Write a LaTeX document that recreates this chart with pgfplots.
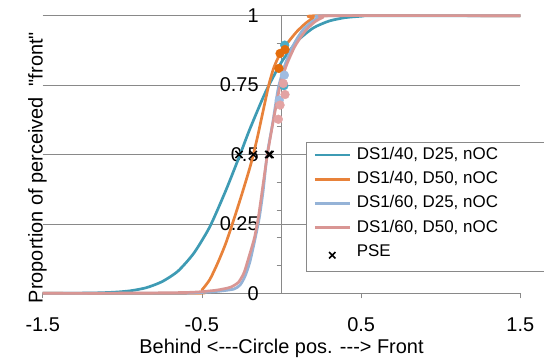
\documentclass[border=0pt]{standalone}
\usepackage{fontspec}
\setmainfont{Liberation Sans}[Ligatures=TeXOff]
\usepackage{pgfplots}
\pgfplotsset{compat=1.18}
\definecolor{cteal}{HTML}{3E9BB4}
\definecolor{corange}{HTML}{E8823A}
\definecolor{cblue}{HTML}{95B3D7}
\definecolor{cpink}{HTML}{D99694}
\definecolor{dteal}{HTML}{4BACC6}
\definecolor{dorange}{HTML}{E46C0A}
\definecolor{dblue}{HTML}{A0BCE0}
\definecolor{dpink}{HTML}{E3A3A3}
\definecolor{gridgray}{HTML}{898989}
\newcommand\lstrut{\rule[-3.5bp]{0pt}{16bp}}
\pgfplotsset{
  curve/.style={line width=2.7bp, line join=round, smooth, tension=0.4,
    legend image code/.code={\draw[##1] (0bp,0bp) -- (35bp,0bp);}},
  dots/.style={only marks, mark=*, mark size=4.4bp, forget plot},
  pselegend/.style={legend image code/.code={\draw[mark repeat=2, mark phase=2, ##1, mark options={line width=1.5bp, mark size=4.5bp}] plot coordinates {(0bp,0bp) (17.5bp,0bp) (35bp,0bp)};}},
}
\begin{document}
\begin{tikzpicture}
\begin{axis}[
  at={(0,0)}, anchor=south west,
  scale only axis, width=477.6bp, height=277.6bp,
  xmin=-1.5, xmax=1.5, ymin=0, ymax=1,
  axis x line=bottom, axis y line=center,
  axis line style={gridgray, line width=0.8bp, -},
  every inner y axis line/.append style={-},
  every outer x axis line/.append style={-},
  xtick={-1.5,-0.5,0.5,1.5}, xticklabels={-1.5,-0.5,0.5,1.5},
  ytick={0,0.25,0.5,0.75,1}, yticklabels={0,0.25,0.5,0.75,1},
  minor ytick={0.1,0.2,0.3,0.4,0.5,0.6,0.7,0.8,0.9},
  hide obscured x ticks=false, hide obscured y ticks=false,
  tick align=outside, major tick length=5bp, minor tick length=5bp,
  tick style={gridgray, line width=0.8bp},
  ymajorgrids, major grid style={gridgray, line width=0.8bp},
  tick label style={font=\fontsize{20}{24}\selectfont},
  xticklabel style={anchor=north, inner sep=0pt, yshift=-19bp},
  yticklabel style={anchor=east, inner sep=0pt, xshift=-17.7bp},
  clip=false,
  xlabel={Behind <---Circle pos. ---> Front},
  xlabel style={at={(axis description cs:0.5,0)}, anchor=base, yshift=-59.7bp, inner sep=0pt, font=\fontsize{20}{24}\selectfont},
  ylabel={Proportion of perceived~~"front"},
  ylabel style={at={(axis description cs:0,0.5)}, anchor=base, rotate=90, xshift=-13.1bp, inner sep=0pt, font=\fontsize{20}{24}\selectfont},
  legend style={at={(rel axis cs:0.5513,0.545)}, anchor=north west,
    draw=gridgray, line width=0.8bp, fill=white,
    font=\fontsize{17}{20}\selectfont,
    inner xsep=7bp, inner ysep=4.6bp, row sep=8.2bp,
    nodes={inner sep=0pt, text depth=},
    /tikz/every odd column/.append style={column sep=5.7bp}},
  legend cell align=left,
]
\addplot[curve, cteal] coordinates {(-1.5,0) (-1.2,0.001) (-1.05,0.004) (-0.95,0.009) (-0.85,0.02) (-0.75,0.042) (-0.65,0.08) (-0.55,0.145) (-0.45,0.24) (-0.35,0.37) (-0.26,0.5) (-0.2,0.59) (-0.1,0.725) (0,0.833) (0.1,0.909) (0.2,0.956) (0.3,0.981) (0.4,0.993) (0.5,0.998) (0.6,1) (1.5,1)};
\addlegendentry{DS1/40, D25, nOC\lstrut\hspace*{41bp}}
\addplot[curve, corange] coordinates {(-1.5,0) (-0.53,0) (-0.5,0.012) (-0.45,0.05) (-0.4,0.11) (-0.35,0.18) (-0.3,0.265) (-0.25,0.355) (-0.2,0.45) (-0.177,0.5) (-0.15,0.565) (-0.12,0.645) (-0.08,0.75) (-0.05,0.81) (-0.02,0.85) (0.02,0.888) (0.06,0.918) (0.1,0.945) (0.15,0.972) (0.2,0.992) (0.24,1) (1.5,1)};
\addlegendentry{DS1/40, D50, nOC\lstrut}
\addplot[curve, cblue] coordinates {(-1.5,0) (-0.65,0) (-0.5,0.003) (-0.4,0.007) (-0.3,0.015) (-0.26,0.03) (-0.23,0.06) (-0.2,0.11) (-0.17,0.185) (-0.14,0.27) (-0.115,0.37) (-0.09,0.5) (-0.055,0.615) (-0.02,0.74) (0.02,0.82) (0.06,0.878) (0.1,0.92) (0.14,0.953) (0.19,0.978) (0.24,0.994) (0.29,1) (1.5,1)};
\addlegendentry{DS1/60, D25, nOC\lstrut}
\addplot[curve, cpink] coordinates {(-1.5,0) (-0.9,0.001) (-0.6,0.003) (-0.5,0.006) (-0.4,0.012) (-0.32,0.022) (-0.27,0.04) (-0.235,0.075) (-0.2,0.14) (-0.17,0.2) (-0.145,0.275) (-0.12,0.375) (-0.09,0.495) (-0.055,0.61) (-0.01,0.745) (0.03,0.82) (0.08,0.885) (0.12,0.922) (0.16,0.952) (0.21,0.978) (0.26,0.994) (0.31,1) (1.5,1)};
\addlegendentry{DS1/60, D50, nOC\lstrut}
\addplot[dots, dteal] coordinates {(0.02,0.894) (0.015,0.748)};
\addplot[dots, dorange] coordinates {(-0.009,0.864) (0.022,0.878) (-0.016,0.81)};
\addplot[dots, dblue] coordinates {(0.018,0.786) (-0.014,0.696)};
\addplot[dots, dpink] coordinates {(0.011,0.756) (0.022,0.716) (-0.009,0.678) (-0.02,0.627)};
\addplot[only marks, mark=x, black, mark options={line width=1.5bp, mark size=5bp}, pselegend]
  coordinates {(-0.267,0.5) (-0.177,0.5) (-0.08,0.5) (-0.072,0.5)};
\addlegendentry{PSE\rule[-10.3bp]{0pt}{22.8bp}}
\end{axis}
\pgfresetboundingbox
\path (-42.7bp,-67.7bp) rectangle (501.3bp,293.3bp);
\end{tikzpicture}
\end{document}
